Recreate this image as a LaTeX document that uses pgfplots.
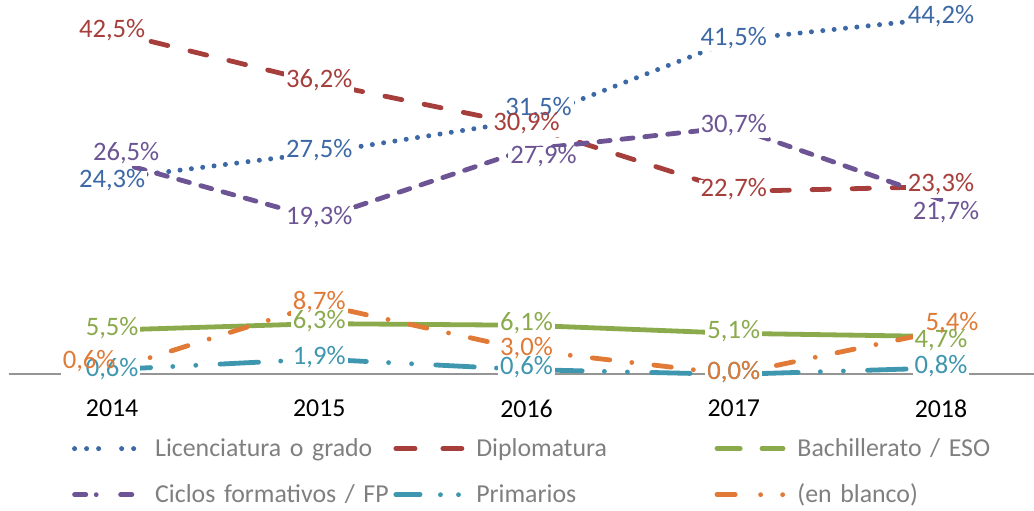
\documentclass[border=0pt]{standalone}
\usepackage{pgfplots}
\pgfplotsset{compat=1.18}
\usepackage{pgfplotstable}
\usepackage{fontspec}
\setmainfont{Carlito}
\definecolor{cLic}{HTML}{3C69A6}
\definecolor{cDip}{HTML}{A63F3C}
\definecolor{cBac}{HTML}{8AAA4B}
\definecolor{cCic}{HTML}{6D5595}
\definecolor{cPri}{HTML}{3E97AF}
\definecolor{cBla}{HTML}{E07A36}
\definecolor{cLeg}{HTML}{7F7F7F}
\definecolor{cAxis}{HTML}{959595}
\newcommand{\fs}{\fontsize{13.3}{16}\selectfont}
\newcommand{\fl}{\fontsize{12.9}{15.5}\selectfont}

% x y dx dy  (label offsets in pt)
\pgfplotstableread{
x y dx dy
0 24.3 0 -1.75
1 27.5 0 0
2 31.5 6 5
3 41.5 0 0
4 44.2 0 0
}\tLic
\pgfplotstableread{
x y dx dy
0 42.5 0 0
1 36.2 0 0
2 30.9 0 0
3 22.7 0 0
4 23.3 0 0
}\tDip
\pgfplotstableread{
x y dx dy
0 5.5 0 0
1 6.3 0 0
2 6.1 0 0
3 5.1 0 0
4 4.7 0 -3
}\tBac
\pgfplotstableread{
x y dx dy
0 26.5 7 3
1 19.3 0 0
2 27.9 8.5 -4.5
3 30.7 0 0
4 21.7 2.5 -7.5
}\tCic
\pgfplotstableread{
x y dx dy
0 0.6 0 -1
1 1.9 0 0
2 0.6 0 0
3 0.0 0 0
4 0.8 0 0
}\tPri
\pgfplotstableread{
x y dx dy
0 0.6 -11.5 3
1 8.7 0 0
2 3.0 0 0
3 0.0 0 0
4 5.4 5.5 2.75
}\tBla

\pgfplotsset{
  lbl/.style={draw=none, mark=none, forget plot, point meta=y,
    visualization depends on={\thisrow{dx} \as \ldx},
    visualization depends on={\thisrow{dy} \as \ldy},
    nodes near coords={\pgfmathprintnumber[fixed, fixed zerofill, precision=1, use comma, assume math mode=true]{\pgfplotspointmeta}\%},
    every node near coord/.append style={anchor=center, xshift=\ldx pt, yshift=\ldy pt,
      font=\fs, inner xsep=1pt, inner ysep=1.5pt, text height=0.68em, text depth=0.16em}},
  lblbg/.style={lbl, every node near coord/.append style={fill=white, text opacity=0}},
  lblfg/.style={lbl, every node near coord/.append style={text=#1}},
  ln/.style={line width=2.4pt, line join=round, forget plot},
}

\begin{document}
\begin{tikzpicture}
\begin{axis}[
  set layers,
  at={(0pt,0pt)}, anchor=south west,
  scale only axis, width=512.2pt, height=187pt,
  xmin=-0.5, xmax=4.449, ymin=0, ymax=46.46,
  clip=false,
  axis y line=none,
  axis x line*=bottom,
  x axis line style={draw=cAxis, line width=1pt},
  xtick={0,1,2,3,4},
  xticklabels={2014,2015,2016,2017,2018},
  major tick length=0pt,
  xticklabel style={font=\fl, text=black, anchor=center, yshift=-17pt},
  legend columns=3,
  legend cell align=left,
  legend style={at={(0.062,-0.1367)}, anchor=north west, draw=none, fill=none,
    inner sep=0pt, outer sep=0pt, column sep=0pt, row sep=0pt,
    nodes={font=\fl, text=cLeg, text width=117pt, align=left, minimum height=23pt, inner xsep=2pt, inner ysep=0pt},
    /tikz/every odd column/.append style={column sep=4pt}},
  legend image code/.code={\draw[#1] (0pt,0pt) -- (33pt,0pt);},
]
% legend samples
\addlegendimage{cLic, line width=2.5pt, line cap=round, dash pattern=on 0pt off 6pt on 0pt off 6pt on 0pt off 11.5pt on 0pt off 6pt on 0pt off 30pt}
\addlegendentry{Licenciatura o grado}
\addlegendimage{cDip, line width=2.4pt, line cap=round, dash pattern=on 9.6pt off 13.9pt on 9.6pt off 30pt}
\addlegendentry{Diplomatura}
\addlegendimage{cBac, line width=2.4pt, line cap=round, dash pattern=on 11.6pt off 10.9pt on 11.6pt off 30pt}
\addlegendentry{Bachillerato / ESO}
\addlegendimage{cCic, line width=2.4pt, line cap=round, dash pattern=on 5.6pt off 5.2pt on 0pt off 12.2pt on 5.6pt off 30pt}
\addlegendentry{Ciclos formativos / FP}
\addlegendimage{cPri, line width=2.4pt, line cap=round, dash pattern=on 12.1pt off 10.2pt on 0pt off 9pt on 0pt off 30pt}
\addlegendentry{Primarios}
\addlegendimage{cBla, line width=2.4pt, line cap=round, dash pattern=on 9.1pt off 12.7pt on 0pt off 11pt on 0pt off 30pt}
\addlegendentry{(en blanco)}

% lines
\addplot[ln, cLic, line width=2.5pt, line cap=round, dash pattern=on 0pt off 5.7pt] table[x=x,y=y] {\tLic};
\addplot[ln, cDip, line cap=round, dash pattern=on 8.6pt off 11.4pt] table[x=x,y=y] {\tDip};
\addplot[ln, cBac, line cap=round] table[x=x,y=y] {\tBac};
\addplot[ln, cCic, line cap=round, dash pattern=on 5.6pt off 5.9pt] table[x=x,y=y] {\tCic};
\addplot[ln, cPri, line cap=round, dash pattern=on 19.25pt off 11.1pt on 0pt off 11.5pt on 0pt off 12.1pt] table[x=x,y=y] {\tPri};
\addplot[ln, cBla, line cap=round, dash pattern=on 8.75pt off 11.1pt on 0pt off 11.1pt] table[x=x,y=y] {\tBla};

% label backgrounds
\addplot[lblbg] table[x=x,y=y] {\tLic};
\addplot[lblbg] table[x=x,y=y] {\tDip};
\addplot[lblbg] table[x=x,y=y] {\tBac};
\addplot[lblbg] table[x=x,y=y] {\tCic};
\addplot[lblbg] table[x=x,y=y] {\tPri};
\addplot[lblbg] table[x=x,y=y] {\tBla};
% label texts
\addplot[lblfg=cLic] table[x=x,y=y] {\tLic};
\addplot[lblfg=cDip] table[x=x,y=y] {\tDip};
\addplot[lblfg=cBac] table[x=x,y=y] {\tBac};
\addplot[lblfg=cCic] table[x=x,y=y] {\tCic};
\addplot[lblfg=cPri] table[x=x,y=y] {\tPri};
\addplot[lblfg=cBla] table[x=x,y=y] {\tBla};
\end{axis}
\pgfresetboundingbox
\path[use as bounding box] (-4.25pt,-68pt) rectangle (512.2pt,187pt);
\end{tikzpicture}
\end{document}
